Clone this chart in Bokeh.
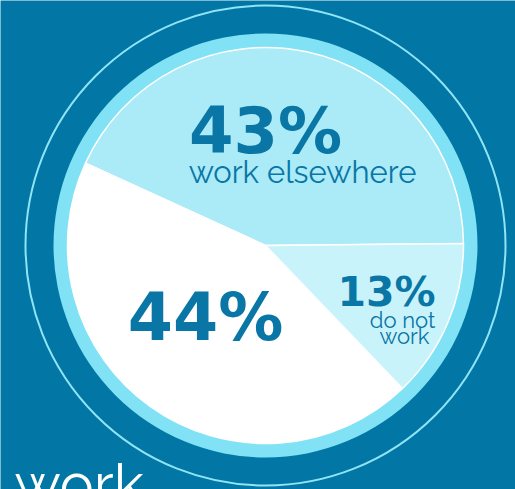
import numpy as np
from bokeh.plotting import figure
from bokeh.models import Range1d, ColumnDataSource
from bokeh.core.properties import value
from bokeh.embed import file_html
from bokeh.resources import INLINE

# ---- data ----
categories = ["work elsewhere", "(unlabelled)", "do not work"]
shares = [43, 44, 13]
pct_labels = ["43%", "44%", "13%"]
slice_colors = ["#aaebf7", "#ffffff", "#c9f3fa"]

BG = "#0276a5"
TXT = "#0a76a6"
RING = "#80e2f4"

W, H = 515, 489
p = figure(width=W, height=H, output_backend="svg", toolbar_location=None,
           x_range=Range1d(0, W), y_range=Range1d(0, H),
           background_fill_color=BG, border_fill_color=BG, min_border=0,
           outline_line_color=None)
p.axis.visible = False
p.grid.visible = False

cx, cy = 265, 244
start_deg = 0.6
frac = np.array(shares, dtype=float) / sum(shares)
ends = np.radians(start_deg) + np.cumsum(frac) * 2 * np.pi
starts = np.concatenate([[np.radians(start_deg)], ends[:-1]])

# outer thin ring
p.circle(x=[cx], y=[cy], radius=240, fill_color=None, line_color="#8fe4f5", line_width=2)
# cyan ring
p.annular_wedge(x=cx, y=cy, inner_radius=196, outer_radius=212, start_angle=0,
                end_angle=2 * np.pi, fill_color=RING, line_color=None)

src = ColumnDataSource(dict(cat=categories, share=shares, start=starts, end=ends, color=slice_colors))
p.wedge(x=cx, y=cy, radius=198, start_angle="start", end_angle="end", fill_color="color",
        line_color="white", line_width=1.5, source=src)

BOLD = value("DejaVu Sans")
LIGHT = value("Raleway Light, Raleway, Lato Light")

def txt(x, y, s, size, font, style="normal", color=TXT, align="center"):
    p.text(x=[x], y=[y], text=[s], text_font=font, text_font_size=f"{size}px",
           text_font_style=style, text_color=color, text_align=align, text_baseline="middle")

txt(265, 359, pct_labels[0], 64, BOLD, "bold")
txt(302, 318, categories[0], 31, LIGHT)
txt(205, 172, pct_labels[1], 65, BOLD, "bold")
txt(386, 198, pct_labels[2], 41, BOLD, "bold")
txt(402, 170, "do not", 22, LIGHT)
txt(404, 154, "work", 22, LIGHT)
txt(14, 6, "work", 57, LIGHT, color="white", align="left")

open("out.html", "w").write(file_html(p, INLINE))
